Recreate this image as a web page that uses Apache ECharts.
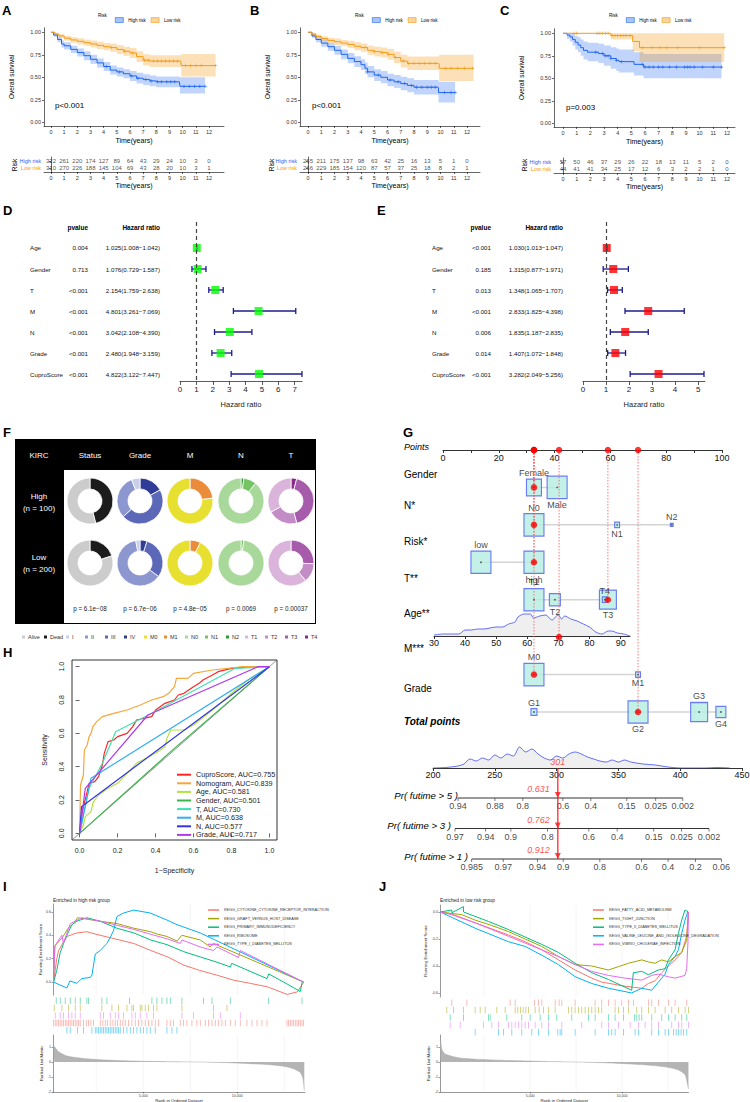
<!DOCTYPE html>
<html><head><meta charset="utf-8">
<script src="https://cdn.jsdelivr.net/npm/echarts@6/dist/echarts.min.js"></script>
<style>html,body{margin:0;padding:0;background:#fff}#c{width:750px;height:1102px}</style>
</head><body><div id="c"></div>
<script>
// ======================= DATA =======================
const years=[0,1,2,3,4,5,6,7,8,9,10,11,12];
const survTicks=[0,0.25,0.5,0.75,1];
// --- KM panel A
const kmA_high=[[0,1],[0.2,0.97],[0.5,0.92],[0.8,0.87],[1,0.85],[1.5,0.81],[2,0.775],[2.5,0.74],[3,0.70],[3.5,0.66],[4,0.62],[4.5,0.58],[5,0.56],[5.5,0.54],[6,0.515],[6.5,0.49],[7,0.475],[7.5,0.46],[8,0.45],[9.75,0.45],[9.8,0.40],[11.7,0.40]];
const kmA_highLo=[[0,1],[0.2,0.95],[0.5,0.89],[0.8,0.83],[1,0.81],[1.5,0.77],[2,0.73],[2.5,0.69],[3,0.65],[3.5,0.61],[4,0.57],[4.5,0.53],[5,0.51],[5.5,0.49],[6,0.46],[6.5,0.43],[7,0.415],[7.5,0.40],[8,0.39],[9.75,0.39],[9.8,0.32],[11.7,0.32]];
const kmA_highHi=[[0,1],[0.2,0.99],[0.5,0.95],[0.8,0.91],[1,0.89],[1.5,0.85],[2,0.82],[2.5,0.79],[3,0.75],[3.5,0.71],[4,0.67],[4.5,0.63],[5,0.61],[5.5,0.59],[6,0.57],[6.5,0.55],[7,0.535],[7.5,0.52],[8,0.51],[9.75,0.51],[9.8,0.50],[11.7,0.50]];
const kmA_low=[[0,1],[0.3,0.98],[0.6,0.96],[1,0.935],[1.5,0.915],[2,0.90],[2.5,0.885],[3,0.87],[3.5,0.855],[4,0.84],[4.5,0.83],[5,0.81],[5.5,0.79],[6,0.77],[6.5,0.73],[7,0.69],[7.5,0.68],[9.85,0.68],[9.9,0.63],[12.5,0.63]];
const kmA_lowLo=[[0,1],[0.3,0.965],[0.6,0.94],[1,0.91],[1.5,0.885],[2,0.865],[2.5,0.85],[3,0.83],[3.5,0.815],[4,0.80],[4.5,0.785],[5,0.76],[5.5,0.74],[6,0.715],[6.5,0.67],[7,0.63],[7.5,0.615],[9.85,0.61],[9.9,0.51],[12.5,0.51]];
const kmA_lowHi=[[0,1],[0.3,0.995],[0.6,0.98],[1,0.96],[1.5,0.945],[2,0.935],[2.5,0.92],[3,0.91],[3.5,0.895],[4,0.88],[4.5,0.875],[5,0.86],[5.5,0.84],[6,0.825],[6.5,0.79],[7,0.755],[7.5,0.745],[9.85,0.745],[9.9,0.76],[12.5,0.76]];
const censA_high=[4.2,5.2,6.1,6.6,7.2,7.6,8.1,8.4,8.8,9.1,9.4,10.1,10.5,10.9,11.3,11.7];
const censA_low=[4.6,5.6,6.2,7.1,7.4,7.8,8.1,8.4,8.7,9.0,9.3,9.6,10.2,10.6,11.0,11.4,12.5];
const riskA_high=[322,261,220,174,127,89,64,43,29,24,10,3,0];
const riskA_low=[310,270,226,188,145,104,69,43,28,20,10,3,1];
// --- KM panel B
const kmB_high=[[0,1],[0.3,0.96],[0.6,0.92],[1,0.88],[1.5,0.84],[2,0.80],[2.5,0.755],[3,0.71],[3.5,0.675],[4,0.64],[4.3,0.60],[4.5,0.56],[5,0.525],[5.5,0.50],[6,0.47],[6.5,0.45],[7,0.43],[7.5,0.41],[8,0.39],[9.8,0.385],[9.85,0.33],[11.1,0.33]];
const kmB_highLo=[[0,1],[0.3,0.94],[0.6,0.89],[1,0.84],[1.5,0.795],[2,0.75],[2.5,0.70],[3,0.655],[3.5,0.615],[4,0.58],[4.3,0.54],[4.5,0.50],[5,0.46],[5.5,0.435],[6,0.40],[6.5,0.38],[7,0.355],[7.5,0.335],[8,0.31],[9.8,0.30],[9.85,0.22],[11.1,0.22]];
const kmB_highHi=[[0,1],[0.3,0.985],[0.6,0.955],[1,0.92],[1.5,0.885],[2,0.85],[2.5,0.81],[3,0.77],[3.5,0.735],[4,0.70],[4.3,0.665],[4.5,0.625],[5,0.59],[5.5,0.57],[6,0.54],[6.5,0.525],[7,0.505],[7.5,0.49],[8,0.47],[9.8,0.47],[9.85,0.45],[11.1,0.45]];
const kmB_low=[[0,1],[0.3,0.98],[0.6,0.955],[1,0.93],[1.5,0.91],[2,0.895],[2.5,0.88],[3,0.865],[3.5,0.845],[4,0.83],[4.5,0.80],[5,0.785],[5.5,0.775],[6,0.755],[6.5,0.72],[7,0.68],[7.5,0.655],[9.85,0.65],[9.9,0.60],[12.5,0.60]];
const kmB_lowLo=[[0,1],[0.3,0.965],[0.6,0.935],[1,0.905],[1.5,0.88],[2,0.86],[2.5,0.845],[3,0.825],[3.5,0.80],[4,0.785],[4.5,0.75],[5,0.73],[5.5,0.72],[6,0.695],[6.5,0.655],[7,0.61],[7.5,0.58],[9.85,0.575],[9.9,0.46],[12.5,0.46]];
const kmB_lowHi=[[0,1],[0.3,0.995],[0.6,0.975],[1,0.955],[1.5,0.94],[2,0.93],[2.5,0.915],[3,0.905],[3.5,0.89],[4,0.875],[4.5,0.85],[5,0.84],[5.5,0.83],[6,0.815],[6.5,0.785],[7,0.75],[7.5,0.73],[9.85,0.73],[9.9,0.75],[12.5,0.75]];
const censB_high=[4.5,5.3,6.2,6.8,7.3,7.8,8.2,8.6,9.0,9.3,9.6,10.3,10.8,11.1];
const censB_low=[4.3,5.0,5.6,6.1,6.6,7.2,7.6,8.0,8.4,8.8,9.2,9.6,10.4,10.8,11.3,11.8,12.4];
const riskB_high=[265,211,175,137,98,63,42,25,16,13,5,1,0];
const riskB_low=[266,229,185,154,120,87,57,37,25,18,8,2,1];
// --- KM panel C
const kmC_high=[[0,1],[0.3,0.98],[0.5,0.96],[0.7,0.93],[0.9,0.90],[1.1,0.87],[1.3,0.84],[1.5,0.81],[1.8,0.79],[2.6,0.775],[3,0.75],[3.5,0.72],[3.9,0.70],[4.1,0.685],[5.2,0.655],[5.9,0.625],[11.6,0.625]];
const kmC_highLo=[[0,1],[0.3,0.94],[0.5,0.91],[0.7,0.865],[0.9,0.82],[1.1,0.79],[1.3,0.75],[1.5,0.71],[1.8,0.69],[2.6,0.67],[3,0.64],[3.5,0.605],[3.9,0.58],[4.1,0.565],[5.2,0.53],[5.9,0.50],[11.6,0.50]];
const kmC_highHi=[[0,1],[0.3,1],[0.5,1],[0.7,0.99],[0.9,0.97],[1.1,0.955],[1.3,0.93],[1.5,0.91],[1.8,0.895],[2.6,0.885],[3,0.865],[3.5,0.845],[3.9,0.83],[4.1,0.82],[5.2,0.79],[5.9,0.77],[11.6,0.77]];
const kmC_low=[[0,1],[3.5,0.975],[5.1,0.91],[5.6,0.84],[11.8,0.84]];
const kmC_lowLo=[[0,1],[3.5,0.93],[5.1,0.80],[5.6,0.68],[11.8,0.68]];
const kmC_lowHi=[[0,1],[3.5,1],[5.1,1],[5.6,1],[11.8,1]];
const censC_high=[2.4,2.9,3.1,3.3,3.5,3.9,4.3,5.8,6.0,6.3,6.6,7.0,7.3,7.8,8.3,8.9,9.1,9.3,9.6,10.2,11.0,11.6];
const censC_low=[0.8,1.0,2.5,2.7,2.9,3.1,3.3,3.6,3.8,4.0,4.2,4.4,4.6,4.9,5.8,6.5,7.1,7.6,8.4,10.0,11.8];
const riskC_high=[57,50,46,37,29,26,22,18,13,11,5,2,0];
const riskC_low=[44,41,41,34,25,17,12,6,3,2,2,1,0];
// --- Forest D (univariate) / E (multivariate)
const forestNames=['Age','Gender','T','M','N','Grade','CuproScore'];
const pvalD=['0.004','0.713','<0.001','<0.001','<0.001','<0.001','<0.001'];
const hrD=[1.025,1.076,2.154,4.801,3.042,2.480,4.822];
const hrLoD=[1.008,0.729,1.759,3.261,2.108,1.948,3.122];
const hrHiD=[1.042,1.587,2.638,7.069,4.390,3.159,7.447];
const pvalE=['<0.001','0.185','0.013','<0.001','0.006','0.014','<0.001'];
const hrE=[1.030,1.315,1.348,2.833,1.835,1.407,3.282];
const hrLoE=[1.013,0.877,1.065,1.825,1.187,1.072,2.049];
const hrHiE=[1.047,1.971,1.707,4.398,2.835,1.848,5.256];
const forestTicksD=[0,1,2,3,4,5,6,7];
const forestTicksE=[0,1,2,3,4,5];
// --- Donuts F (clockwise from 12 o'clock)
const donutCols=['Status','Grade','M','N','T'];
const statusNames=['Dead','Alive'];     const statusHigh=[46,54];        const statusLow=[20,80];
const gradeNames=['IV','III','II','I']; const gradeHigh=[17,46,31,6];    const gradeLow=[5,30,62,3];
const mNames=['M1','M0'];               const mHigh=[23,77];             const mLow=[7.5,92.5];
const nNames=['N2','N1','N0'];          const nHigh=[2,9,89];            const nLow=[0,2,98];
const tNames=['T4','T3','T2','T1'];     const tHigh=[4,42,21,33];        const tLow=[0,25.5,13.5,61];
const donutP=['p = 6.1e\u221208','p = 6.7e\u221206','p = 4.8e\u221205','p = 0.0069','p = 0.00037'];
const donutLegend=['Alive','Dead','I','II','III','IV','M0','M1','N0','N1','N2','T1','T2','T3','T4'];
// --- Nomogram G
const genderLv=['Female','Male']; const genderPts=[32.6,40.9]; const genderFreq=[0.56,1];
const nLv=['N0','N1','N2']; const nPts=[32.6,62.4,82.0]; const nFreq=[1,0.06,0.02];
const riskLv=['low','high']; const riskPts=[13.6,32.6]; const riskFreq=[1,1];
const tLv=['T1','T2','T3','T4']; const tPts=[32.6,40.1,59.1,58.0]; const tFreq=[1,0.3,0.72,0.06];
const mLv=['M0','M1']; const mPts=[32.6,69.9]; const mFreq=[1,0.06];
const gLv=['G1','G2','G3','G4']; const gPts=[32.6,69.9,91.8,99.6]; const gFreq=[0.09,1,0.72,0.25];
const selIdx=[0,0,1,2,0,1]; // Female, N0, high, T3, M0, G2
const ageSel=70; const ageSelPts=41.6;
const ageDensX=[30,33,36,38,40,42,44,46,48,50,52,54,56,57,59,61,62,64,66,67,68,69,70,71,72,74,76,78,80,82,84,86,87,89,91,93];
const ageDensY=[1,2,2,2,6,6,7,7,8,9,9,12,14,19,22,22,18,20,21,18,16,19,21,17,20,17,15,12,9,4,2,5,5,3,2,0];
const totDensX=[200,210,220,225,230,235,240,245,250,255,260,265,270,275,280,285,290,295,300,305,310,315,320,325,330,335,340,345,350,355,360,370,380,390,400,420,430,440];
const totDensY=[0,0.5,2,4,9,7,10,8,13,10,14,12,21,16,19,14,10,8,12,10,14,16,14,11,9,7,6,8,6,8,6,4,3,1,0,0,0.5,0];
const totalSel=301;
const pr5Pts=[220.2,250.1,272.7,305.1,327.7,356.8,380.2,402.1]; const pr5Lab=['0.94','0.88','0.8','0.6','0.4','0.15','0.025','0.002'];
const pr3Pts=[217.8,242.6,263.0,292.7,326.1,349.0,378.6,401.0,423.3]; const pr3Lab=['0.97','0.94','0.9','0.8','0.6','0.4','0.15','0.025','0.002'];
const pr1Pts=[231.3,256.8,284.6,305.3,335.0,368.7,390.2,412.3,433.3]; const pr1Lab=['0.985','0.97','0.94','0.9','0.8','0.6','0.4','0.2','0.06'];
const prSel=['0.631','0.762','0.912'];
const prNames=['Pr( futime > 5 )','Pr( futime > 3 )','Pr( futime > 1 )'];
// --- ROC H
const rocNames=['CuproScore, AUC=0.755','Nomogram, AUC=0.839','Age, AUC=0.581','Gender, AUC=0.501','T, AUC=0.730','M, AUC=0.638','N, AUC=0.577','Grade, AUC=0.717'];
const rocCupro=[[0,0],[0.01,0.1],[0.02,0.16],[0.04,0.25],[0.05,0.3],[0.08,0.31],[0.1,0.34],[0.12,0.41],[0.13,0.48],[0.15,0.55],[0.18,0.56],[0.2,0.58],[0.25,0.6],[0.28,0.64],[0.3,0.68],[0.38,0.7],[0.4,0.74],[0.45,0.78],[0.5,0.8],[0.52,0.83],[0.55,0.84],[0.6,0.88],[0.63,0.9],[0.65,0.92],[0.7,0.95],[0.73,0.97],[0.8,0.99],[0.9,1],[1,1]];
const rocNomo=[[0,0],[0.005,0.29],[0.02,0.35],[0.025,0.5],[0.04,0.53],[0.05,0.58],[0.06,0.6],[0.07,0.64],[0.09,0.67],[0.12,0.7],[0.18,0.72],[0.25,0.74],[0.32,0.77],[0.38,0.8],[0.44,0.82],[0.47,0.84],[0.5,0.88],[0.51,0.93],[0.57,0.93],[0.6,0.96],[0.7,0.98],[0.86,1],[1,1]];
const rocAge=[[0,0],[0.02,0.05],[0.03,0.1],[0.06,0.13],[0.07,0.18],[0.08,0.2],[0.1,0.23],[0.15,0.27],[0.2,0.3],[0.3,0.42],[0.35,0.45],[0.4,0.48],[0.45,0.52],[0.46,0.57],[0.48,0.62],[0.55,0.62],[0.6,0.65],[0.7,0.74],[0.75,0.79],[0.8,0.84],[0.9,0.93],[1,1]];
const rocGender=[[0,0],[0.48,0.49],[1,1]];
const rocT=[[0,0],[0.05,0.27],[0.12,0.42],[0.19,0.61],[0.38,0.72],[0.82,0.99],[1,1]];
const rocM=[[0,0],[0.06,0.33],[1,1]];
const rocN=[[0,0],[0.01,0.16],[1,1]];
const rocGrade=[[0,0],[0.03,0.27],[0.36,0.71],[0.94,1],[1,1]];
const rocTicks=[0,0.2,0.4,0.6,0.8,1.0];
// --- GSEA I
const gseaNamesI=['KEGG_CYTOKINE_CYTOKINE_RECEPTOR_INTERACTION','KEGG_GRAFT_VERSUS_HOST_DISEASE','KEGG_PRIMARY_IMMUNODEFICIENCY','KEGG_RIBOSOME','KEGG_TYPE_I_DIABETES_MELLITUS'];
const esI_cyto=[[229,0],[400,0.2],[500,0.27],[940,0.39],[1470,0.42],[2000,0.43],[2700,0.40],[3600,0.365],[4500,0.33],[5400,0.27],[6300,0.215],[7150,0.145],[8000,0.10],[8900,0.06],[9800,0.017],[10700,-0.011],[11600,-0.04],[12650,-0.105],[13200,-0.083],[13530,0]];
const esI_graft=[[229,0],[300,0.31],[700,0.38],[1000,0.46],[1300,0.5],[1500,0.55],[2700,0.52],[3600,0.5],[4500,0.46],[5400,0.43],[5750,0.41],[6260,0.39],[6800,0.35],[7050,0.40],[8030,0.36],[8560,0.30],[8740,0.33],[9450,0.28],[13530,0]];
const esI_primary=[[229,0],[400,0.1],[580,0.25],[760,0.33],[940,0.40],[1200,0.49],[1470,0.52],[2000,0.55],[2700,0.52],[3600,0.46],[4500,0.42],[5400,0.36],[6260,0.32],[7150,0.26],[8030,0.215],[8920,0.17],[9630,0.13],[9700,0.16],[11580,0.03],[11670,0.07],[12470,0.0],[13350,-0.08],[13450,0]];
const esI_ribo=[[229,0],[940,-0.05],[1100,0.01],[1470,-0.01],[1730,0.03],[2180,0.04],[2270,0.06],[2450,0.24],[2710,0.27],[3060,0.33],[3240,0.38],[3420,0.44],[3600,0.56],[3950,0.59],[4490,0.615],[5370,0.59],[6260,0.53],[6800,0.49],[8030,0.42],[13530,0]];
const esI_t1d=[[229,0],[300,0.31],[670,0.40],[750,0.33],[1120,0.50],[1380,0.52],[1740,0.55],[2000,0.54],[2710,0.52],[4490,0.45],[5370,0.41],[6260,0.37],[6970,0.33],[7060,0.36],[8030,0.30],[8740,0.27],[8920,0.30],[10070,0.21],[10160,0.27],[13530,0]];
const hitsI_primary=[372,584,850,1116,1382,1648,2003,2091,2800,3067,4273,5460,5726,5992,6258,6435,7056,8208,8652,9626,11666,13439];
const hitsI_graft=[265,673,1028,1382,1648,2800,3333,3687,4130,4396,4485,4840,4928,5105,5283,5549,5726,7056,8740,9449];
const hitsI_t1d=[318,584,762,1028,1205,1382,1648,2712,2889,3244,3510,3687,3953,4396,4574,4840,5194,5549,7056,7676,8740,9094,10158];
const hitsI_cyto=[230,318,407,496,584,673,762,850,939,1028,1116,1205,1294,1382,1471,1560,1648,1826,1967,2091,2216,2357,2712,2854,2978,3102,3244,3386,3510,3634,3776,3918,4042,4219,4396,4574,4751,4928,5105,5283,5460,5637,5815,6258,6435,6613,6967,7145,7322,7588,7854,8031,8297,8474,8652,8829,9006,9183,9361,9626,9892,10158,10513,10779,11045,11311,11577,12641,12729,12818,12907,12995,13084,13173,13261,13350,13439,13527];
const hitsI_ribo=[939,1116,1506,1826,2269,2446,2535,2623,2712,2800,2889,2978,3067,3155,3244,3333,3421,3510,3599,3687,3776,3953,4130,4308,4485,4662,4840,5017,5194,5372,5638,6258,6524,6790];
const metricI=[[229,1.1],[265,1.05],[496,0.68],[939,0.4],[1826,0.23],[2712,0.15],[4485,0.06],[6258,0.02],[8031,0],[9803,-0.06],[11577,-0.17],[12463,-0.28],[12995,-0.45],[13350,-0.7],[13492,-1.1],[13563,-1.9]];
// --- GSEA J
const gseaNamesJ=['KEGG_FATTY_ACID_METABOLISM','KEGG_TIGHT_JUNCTION','KEGG_TYPE_II_DIABETES_MELLITUS','KEGG_VALINE_LEUCINE_AND_ISOLEUCINE_DEGRADATION','KEGG_VIBRIO_CHOLERAE_INFECTION'];
const esJ_fatty=[[109,0],[742,-0.015],[2010,-0.08],[3820,-0.17],[4730,-0.22],[5630,-0.28],[6540,-0.355],[7450,-0.43],[8350,-0.49],[8900,-0.52],[10160,-0.55],[11070,-0.565],[11430,-0.53],[11790,-0.51],[12150,-0.45],[12520,-0.40],[12880,-0.355],[13240,-0.30],[13510,-0.18],[13605,0]];
const esJ_tight=[[109,0],[1285,-0.02],[2010,-0.06],[2920,-0.1],[3820,-0.145],[5630,-0.255],[6540,-0.33],[7450,-0.39],[8350,-0.40],[9255,-0.43],[9800,-0.405],[10340,-0.38],[11070,-0.355],[11430,-0.37],[11790,-0.38],[12150,-0.355],[12520,-0.37],[12880,-0.33],[13240,-0.30],[13510,-0.21],[13605,0]];
const esJ_t2d=[[109,0],[742,0.015],[750,-0.005],[1375,0.04],[1380,0.0],[2740,-0.07],[3820,-0.13],[5630,-0.24],[6540,-0.30],[7450,-0.38],[8350,-0.45],[9255,-0.50],[10520,-0.58],[10610,-0.45],[11070,-0.44],[11430,-0.465],[11970,-0.43],[12340,-0.42],[12520,-0.355],[12880,-0.28],[13060,-0.16],[13240,-0.06],[13420,0.015],[13605,0]];
const esJ_valine=[[109,0],[2010,-0.12],[3820,-0.22],[4730,-0.255],[5630,-0.32],[6540,-0.39],[7450,-0.48],[8350,-0.53],[9255,-0.565],[10520,-0.60],[11070,-0.565],[11610,-0.58],[11970,-0.52],[12340,-0.46],[12520,-0.39],[12880,-0.33],[13060,-0.28],[13240,-0.16],[13420,-0.06],[13570,0]];
const esJ_vibrio=[[109,0],[742,-0.02],[2010,-0.08],[3820,-0.18],[5630,-0.28],[6540,-0.33],[7450,-0.39],[8350,-0.44],[9255,-0.47],[10160,-0.49],[11070,-0.505],[11610,-0.47],[11970,-0.46],[12520,-0.48],[12880,-0.49],[13420,-0.47],[13510,-0.42],[13580,-0.23],[13605,0]];
const hitsJ_fatty=[743,1560,3914,4186,5236,5454,5635,6360,6577,6722,7446,8533,8895,9258,9620,9982,10345,10617,11432,11613,11975,12519,12881,13515];
const hitsJ_tight=[471,834,1377,2011,2283,2555,3189,3642,4185,4330,4475,4620,4765,4910,5272,5490,5725,5997,6359,7084,7265,7446,7627,7809,7990,8171,8352,8533,8714,8896,9620,9801,10073,10345,10798,11070,11432,11794,12338,12700,13063,13425,13606];
const hitsJ_t2d=[652,1377,2736,2827,3732,4547,5000,5544,5997,6450,7265,8171,8533,9258,9620,10073,10671,10798,10925,11070,11613,12157,12519,12881,13244,13515];
const hitsJ_vibrio=[652,1196,2464,2917,3279,3823,4004,4185,4366,4547,4729,4910,5272,5635,5997,6722,7809,8896,9258,9801,10435,10888,11251,11613,11975,12700,13063,13244,13606];
const hitsJ_valine=[2011,3279,3551,4004,4547,5091,5453,5997,6504,6631,6722,7446,8533,9258,9439,9620,10073,10707,10888,11613,11975,12338,12519,12791,12936,13063,13207,13334,13515];
const metricJ=[[109,1.4],[145,1.38],[199,0.85],[380,0.53],[1105,0.28],[2011,0.19],[3823,0.1],[5635,0.04],[7446,0],[9258,-0.06],[11070,-0.17],[12338,-0.32],[13063,-0.53],[13425,-0.85],[13606,-1.8]];

// ======================= BUILD =======================
const FONT='"Liberation Sans", Arial, Helvetica, sans-serif';
const COL_H='#1F66F2', COL_L='#F59B15';
const BAND_H='rgba(31,102,242,0.28)', BAND_L='rgba(245,155,21,0.30)';
const GSEA_COL=['#F8766D','#A3A500','#00BF7D','#00B0F6','#E76BF3'];
const grids=[], xAxis=[], yAxis=[], series=[], legend=[], graphic=[];
function grid(g){grids.push(Object.assign({outerBoundsMode:'none',containLabel:false},g));return grids.length-1;}
function xa(o){xAxis.push(Object.assign({position:'bottom'},o));return xAxis.length-1;}
function ya(o){yAxis.push(Object.assign({position:'left'},o));return yAxis.length-1;}
function T(x,y,t,st,rot){const e={type:'text',x:x,y:y,z:50,style:Object.assign({text:t,fontFamily:FONT,fontSize:8,fill:'#000',align:'left',verticalAlign:'middle'},st||{})};if(rot)e.rotation=rot;graphic.push(e);}
function stepAt(c,t){let v=c[0][1];for(const p of c){if(p[0]<=t)v=p[1];else break;}return v;}
const hidden={show:false};
const line05={color:'#000',width:0.6};

function band(xi,yi,lo,hi,color){
  series.push({type:'custom',xAxisIndex:xi,yAxisIndex:yi,data:[[0,0]],silent:true,z:1,
    renderItem:(params,api)=>{
      const pts=[];
      for(let i=0;i<hi.length;i++){pts.push(api.coord(hi[i]));if(i+1<hi.length)pts.push(api.coord([hi[i+1][0],hi[i][1]]));}
      const L=lo.length-1; pts.push(api.coord(lo[L]));
      for(let i=L-1;i>=0;i--){pts.push(api.coord([lo[i+1][0],lo[i][1]]));pts.push(api.coord(lo[i]));}
      return {type:'polygon',shape:{points:pts},style:{fill:color}};
    }});
}
const CROSS='path://M4,0H6V4H10V6H6V10H4V6H0V4H4Z';
function km(c){
  const gi=grid({left:c.left,top:c.top,width:c.width,height:c.height});
  const xAx={type:'value',min:c.xmin,max:c.xmax,
    axisLine:{show:true,onZero:false,lineStyle:line05},
    axisTick:{show:true,customValues:years,length:2,lineStyle:line05},
    axisLabel:{customValues:years,fontSize:5.5,color:'#333',margin:3},
    splitLine:hidden,name:'Time(years)',nameLocation:'middle',nameGap:11,nameTextStyle:{fontSize:7,color:'#000'}};
  const xi=xa(Object.assign({gridIndex:gi},xAx));
  const yi=ya({gridIndex:gi,type:'value',min:c.ymin,max:c.ymax,
    axisLine:{show:true,onZero:false,lineStyle:line05},
    axisTick:{show:true,customValues:survTicks,length:2,lineStyle:line05},
    axisLabel:{customValues:survTicks,formatter:v=>v.toFixed(2),fontSize:5.5,color:'#333',margin:3},
    splitLine:hidden,name:'Overall survival',nameLocation:'middle',nameGap:29,nameRotate:90,nameTextStyle:{fontSize:6.5,color:'#000'}});
  band(xi,yi,c.hLo,c.hHi,BAND_H); band(xi,yi,c.lLo,c.lHi,BAND_L);
  series.push({name:'High risk',type:'line',step:'end',xAxisIndex:xi,yAxisIndex:yi,data:c.h,showSymbol:false,symbol:'rect',lineStyle:{color:COL_H,width:1},itemStyle:{color:COL_H},z:3});
  series.push({name:'Low risk',type:'line',step:'end',xAxisIndex:xi,yAxisIndex:yi,data:c.l,showSymbol:false,symbol:'rect',lineStyle:{color:COL_L,width:1},itemStyle:{color:COL_L},z:3});
  series.push({type:'scatter',xAxisIndex:xi,yAxisIndex:yi,symbol:CROSS,symbolSize:3.5,itemStyle:{color:COL_H},data:c.ch.map(t=>[t,stepAt(c.h,t)]),z:4,silent:true});
  series.push({type:'scatter',xAxisIndex:xi,yAxisIndex:yi,symbol:CROSS,symbolSize:3.5,itemStyle:{color:COL_L},data:c.cl.map(t=>[t,stepAt(c.l,t)]),z:4,silent:true});
  T(c.pX,c.pY,c.p,{fontSize:8});
  T(c.legX-12,15,'Risk',{fontSize:4.5});
  legend.push({left:c.legX,top:12.3,itemWidth:8,itemHeight:5,itemGap:5,icon:'rect',textStyle:{fontSize:4.5,color:'#000'},
    data:[{name:'High risk',itemStyle:{color:'#A9C4F8',borderColor:COL_H,borderWidth:0.6}},{name:'Low risk',itemStyle:{color:'#F9D49B',borderColor:COL_L,borderWidth:0.6}}]});
  const gr=grid({left:c.left,top:c.rtTop,width:c.width,height:15});
  const xr=xa(Object.assign({gridIndex:gr},xAx,{nameGap:8}));
  const yr=ya({gridIndex:gr,type:'category',data:['Low risk','High risk'],axisLine:{show:true,lineStyle:line05},
    axisTick:{show:true,length:2,alignWithLabel:true,interval:0,lineStyle:line05},
    axisLabel:{interval:0,fontSize:5.5,margin:3,color:(v)=>v==='High risk'?COL_H:COL_L}});
  const lab=(arr)=>({show:true,position:'inside',fontSize:6,color:'#222',formatter:p=>String(arr[p.dataIndex])});
  series.push({type:'scatter',xAxisIndex:xr,yAxisIndex:yr,symbolSize:1,itemStyle:{color:'transparent'},data:years.map(t=>[t,1]),label:lab(c.rh),silent:true});
  series.push({type:'scatter',xAxisIndex:xr,yAxisIndex:yr,symbolSize:1,itemStyle:{color:'transparent'},data:years.map(t=>[t,0]),label:lab(c.rl),silent:true});
  T(c.riskX,165,'Risk',{fontSize:6.5,align:'center'},Math.PI/2);
}
km({left:44,width:180,top:27.8,height:98.2,xmin:-0.53,xmax:13.14,ymin:-0.041,ymax:1.05,h:kmA_high,hLo:kmA_highLo,hHi:kmA_highHi,l:kmA_low,lLo:kmA_lowLo,lHi:kmA_lowHi,ch:censA_high,cl:censA_low,rh:riskA_high,rl:riskA_low,rtTop:157,p:'p<0.001',pX:55,pY:105,legX:110,riskX:14});
km({left:300,width:180,top:27.8,height:98.2,xmin:-0.6,xmax:12.98,ymin:-0.041,ymax:1.05,h:kmB_high,hLo:kmB_highLo,hHi:kmB_highHi,l:kmB_low,lLo:kmB_lowLo,lHi:kmB_lowHi,ch:censB_high,cl:censB_low,rh:riskB_high,rl:riskB_low,rtTop:157,p:'p<0.001',pX:312,pY:105,legX:367,riskX:271});
km({left:554,width:181,top:28.8,height:98.2,xmin:-0.66,xmax:12.59,ymin:-0.041,ymax:1.05,h:kmC_high,hLo:kmC_highLo,hHi:kmC_highHi,l:kmC_low,lLo:kmC_lowLo,lHi:kmC_lowHi,ch:censC_high,cl:censC_low,rh:riskC_high,rl:riskC_low,rtTop:158,p:'p=0.003',pX:566,pY:107,legX:621,riskX:524});

// ---------- Forest ----------
function forest(c){
  const gi=grid({left:c.left,top:222,width:c.width,height:159});
  const xi=xa({gridIndex:gi,type:'value',min:0,max:c.xmax,
    axisLine:{show:true,onZero:false,lineStyle:{color:'#333',width:0.8}},
    axisTick:{customValues:c.ticks,length:4,lineStyle:{color:'#333',width:0.8}},
    axisLabel:{customValues:c.ticks,fontSize:8,color:'#222',margin:4},splitLine:hidden,
    name:'Hazard ratio',nameLocation:'middle',nameGap:19,nameTextStyle:{fontSize:7.5,color:'#222'}});
  const hrTxt=c.hr.map((h,i)=>h.toFixed(3)+'('+c.lo[i].toFixed(3)+'\u2212'+c.hi[i].toFixed(3)+')');
  const yOpt=(labels,align,margin)=>({gridIndex:gi,type:'value',position:'left',offset:0,inverse:true,min:-1.238,max:6.333,axisLine:hidden,axisTick:hidden,splitLine:hidden,
    axisLabel:{customValues:[0,1,2,3,4,5,6],formatter:v=>labels[Math.round(v)],align:align,margin:margin,fontSize:6.2,color:'#111'}});
  const yi=ya(yOpt(forestNames,'left',c.left-c.nameX));
  ya(yOpt(c.pv,'right',c.left-c.pvX));
  ya(yOpt(hrTxt,'right',c.left-c.hrX));
  series.push({type:'custom',xAxisIndex:xi,yAxisIndex:yi,encode:{x:[0,1],y:2},data:c.hr.map((h,i)=>[c.lo[i],c.hi[i],i]),z:2,
    renderItem:(p,api)=>{const a=api.coord([api.value(0),api.value(2)]),b=api.coord([api.value(1),api.value(2)]);const s={stroke:'#1C1C8E',lineWidth:1.3};
      return {type:'group',children:[{type:'line',shape:{x1:a[0],y1:a[1],x2:b[0],y2:b[1]},style:s},{type:'line',shape:{x1:a[0],y1:a[1]-3,x2:a[0],y2:a[1]+3},style:s},{type:'line',shape:{x1:b[0],y1:b[1]-3,x2:b[0],y2:b[1]+3},style:s}]};}});
  series.push({type:'scatter',xAxisIndex:xi,yAxisIndex:yi,symbol:'rect',symbolSize:8,itemStyle:{color:c.color},data:c.hr.map((h,i)=>[h,i]),z:3,
    markLine:{silent:true,symbol:['none','none'],label:{show:false},lineStyle:{type:[4,3],color:'#444',width:1.2},data:[{xAxis:1}]}});
  T(c.pvX,227,'pvalue',{fontSize:6.5,fontWeight:'bold',align:'right'});
  T(c.hrX,227,'Hazard ratio',{fontSize:6.5,fontWeight:'bold',align:'right'});
}
forest({left:180,width:122,xmax:7.45,ticks:forestTicksD,nameX:30,pvX:88,hrX:160,color:'#00FF00',hr:hrD,lo:hrLoD,hi:hrHiD,pv:pvalD});
forest({left:583,width:122,xmax:5.3,ticks:forestTicksE,nameX:432,pvX:491,hrX:563,color:'#FF0000',hr:hrE,lo:hrLoE,hi:hrHiE,pv:pvalE});

// ---------- Donuts F ----------
const DCOL={Alive:'#CCCCCC',Dead:'#1C1C1C',I:'#C9CEEB',II:'#8C96CF',III:'#5B68B8',IV:'#2F3D98',M0:'#E8E030',M1:'#EB8C3A',N0:'#A9D89B',N1:'#74C464',N2:'#2F9A2F',T1:'#DAB4DA',T2:'#C48CC6',T3:'#A75BAB',T4:'#8C2A8C'};
graphic.push({type:'rect',shape:{x:15,y:439,width:301,height:185},style:{fill:'#000'},z:0});
graphic.push({type:'rect',shape:{x:64,y:470,width:251,height:153},style:{fill:'#fff'},z:0});
const colX=[90,140,190,241,291];
T(39,455,'KIRC',{fill:'#fff',align:'center',fontSize:8});
donutCols.forEach((n,i)=>T(colX[i],455,n,{fill:'#fff',align:'center',fontSize:8}));
T(39,496,'High',{fill:'#fff',align:'center',fontSize:8}); T(39,508,'(n = 100)',{fill:'#fff',align:'center',fontSize:8});
T(39,557,'Low',{fill:'#fff',align:'center',fontSize:8}); T(39,569,'(n = 200)',{fill:'#fff',align:'center',fontSize:8});
donutP.forEach((p,i)=>T(colX[i],608,p,{align:'center',fontSize:6.3,fill:'#222'}));
const donutSets=[[statusNames,statusHigh,statusLow],[gradeNames,gradeHigh,gradeLow],[mNames,mHigh,mLow],[nNames,nHigh,nLow],[tNames,tHigh,tLow]];
donutSets.forEach((s,i)=>{[[s[1],501],[s[2],563]].forEach(([vals,cy])=>{
  series.push({type:'pie',center:[colX[i],cy],radius:[12,23],startAngle:90,clockwise:true,label:hidden,labelLine:hidden,silent:true,
    itemStyle:{borderColor:'#fff',borderWidth:0.8},
    data:s[0].map((nm,k)=>({name:nm,value:vals[k],itemStyle:{color:DCOL[nm]}}))});
});});
const donutLegLeft=[15,37,59,78,98,117,137,157,178,198,219,238,258,278,298];
donutLegend.forEach((nm,i)=>legend.push({left:donutLegLeft[i],top:628.5,itemWidth:5,itemHeight:5,icon:'rect',data:[nm],textStyle:{fontSize:5.5,color:'#333',padding:[0,0,0,-3]}}));

// ---------- Nomogram G ----------
const NR=37.43;
const gN=grid({left:443,top:450,width:279,height:7.3*NR});
const nxi=xa({gridIndex:gN,type:'value',min:0,max:100,position:'top',
  axisLine:{show:true,onZero:false,lineStyle:{color:'#333',width:1}},
  axisTick:{customValues:[0,10,20,30,40,50,60,70,80,90,100],inside:true,length:3,lineStyle:{color:'#333'}},
  axisLabel:{customValues:[0,20,40,60,80,100],inside:true,fontSize:9,color:'#111',margin:3},splitLine:hidden});
const nyi=ya({gridIndex:gN,type:'value',min:0,max:7.3,inverse:true,show:false});
const nomoRows=[[genderLv,genderPts,genderFreq,1],[nLv,nPts,nFreq,2],[riskLv,riskPts,riskFreq,3],[tLv,tPts,tFreq,4],[mLv,mPts,mFreq,6],[gLv,gPts,gFreq,7]];
const nomoLabPos=[['top','bottom'],['top','bottom','top'],['top','bottom'],['top','bottom','bottom','top'],['top','bottom'],['top','bottom','top','bottom']];
const selPts=[];
nomoRows.forEach((r,ri)=>{
  const [lv,pts,fq,row]=r;
  series.push({type:'line',xAxisIndex:nxi,yAxisIndex:nyi,data:[[Math.min(...pts),row],[Math.max(...pts),row]],showSymbol:false,lineStyle:{color:'#D4D4D4',width:1.5},z:1,silent:true});
  series.push({type:'scatter',xAxisIndex:nxi,yAxisIndex:nyi,symbol:'rect',clip:false,z:2,silent:true,
    itemStyle:{color:'#B4EDE2',borderColor:'#4E5EF2',borderWidth:1.2},
    data:lv.map((n,k)=>{const s=20*Math.sqrt(fq[k]);return {value:[pts[k],row],symbolSize:[s,s*1.12],label:{show:true,position:nomoLabPos[ri][k],distance:1,formatter:n,fontSize:9,color:'#111'}};})});
  series.push({type:'scatter',xAxisIndex:nxi,yAxisIndex:nyi,symbolSize:1.6,itemStyle:{color:'#222'},data:pts.map(p=>[p,row]),z:3,silent:true});
  selPts.push([pts[selIdx[ri]],row]);
});
selPts.push([ageSelPts,5]);
selPts.forEach(s=>{
  series.push({type:'line',xAxisIndex:nxi,yAxisIndex:nyi,data:[[s[0],0],s],showSymbol:false,clip:false,lineStyle:{color:'#FF5555',width:0.8,type:[1.5,1.5]},z:4,silent:true});
});
series.push({type:'scatter',xAxisIndex:nxi,yAxisIndex:nyi,clip:false,symbolSize:6.5,itemStyle:{color:'#FF0000'},z:6,silent:true,data:selPts.concat(selPts.map(s=>[s[0],0]))});
const gA=grid({left:434,top:611,width:196,height:25});
const axi=xa({gridIndex:gA,type:'value',min:30,max:93,axisLine:{show:true,onZero:false,lineStyle:{color:'#333',width:1}},
  axisTick:{customValues:[30,40,50,60,70,80,90],length:3,lineStyle:{color:'#333'}},axisLabel:{customValues:[30,40,50,60,70,80,90],fontSize:9,color:'#111',margin:2},splitLine:hidden});
const ayi=ya({gridIndex:gA,type:'value',min:0,max:25,show:false});
series.push({type:'line',xAxisIndex:axi,yAxisIndex:ayi,data:ageDensX.map((a,i)=>[a,ageDensY[i]]),showSymbol:false,smooth:0.3,lineStyle:{color:'#3D4DF0',width:0.8},areaStyle:{color:'#EFEFEF',opacity:1},z:1,silent:true});
const gTo=grid({left:433,top:738,width:309,height:30});
const txi=xa({gridIndex:gTo,type:'value',min:200,max:450,axisLine:{show:true,onZero:false,lineStyle:{color:'#333',width:1}},
  axisTick:{customValues:[200,250,300,350,400,450],length:3,lineStyle:{color:'#333'}},axisLabel:{customValues:[200,250,300,350,400,450],fontSize:9,color:'#111',margin:2},splitLine:hidden});
const tyi=ya({gridIndex:gTo,type:'value',min:0,max:30,show:false});
series.push({type:'line',xAxisIndex:txi,yAxisIndex:tyi,data:totDensX.map((a,i)=>[a,totDensY[i]]),showSymbol:false,smooth:0.3,lineStyle:{color:'#3D4DF0',width:0.8},areaStyle:{color:'#EFEFEF',opacity:1},z:1,silent:true});
series.push({type:'scatter',xAxisIndex:txi,yAxisIndex:tyi,symbolSize:1,itemStyle:{color:'transparent'},data:[[totalSel,0]],z:5,silent:true,
  label:{show:true,position:'top',distance:1,formatter:String(totalSel),fontSize:9,fontStyle:'italic',color:'#FF2222'}});
const gP=grid({left:433,top:798,width:309,height:61});
const pxi=xa({gridIndex:gP,type:'value',min:200,max:450,show:false});
const pyi=ya({gridIndex:gP,type:'value',min:0,max:2,inverse:true,show:false});
const prLabelRight=[458,451,468];
[[pr5Pts,pr5Lab],[pr3Pts,pr3Lab],[pr1Pts,pr1Lab]].forEach(([pp,ll],k)=>{
  series.push({type:'line',xAxisIndex:pxi,yAxisIndex:pyi,data:[[pp[0],k],[pp[pp.length-1],k]],showSymbol:false,clip:false,lineStyle:{color:'#333',width:1},silent:true});
  series.push({type:'scatter',xAxisIndex:pxi,yAxisIndex:pyi,symbol:'rect',symbolSize:[0.8,3],symbolOffset:[0,1.5],clip:false,itemStyle:{color:'#333'},silent:true,
    data:pp.map(p=>[p,k]),label:{show:true,position:'bottom',distance:0.5,fontSize:9,color:'#111',formatter:p=>ll[p.dataIndex]}});
  T(prLabelRight[k],795+k*30.5,prNames[k],{fontSize:9.6,fontStyle:'italic',align:'right'});
});
series.push({type:'line',xAxisIndex:pxi,yAxisIndex:pyi,data:[[totalSel,-0.98],[totalSel,2]],showSymbol:false,clip:false,lineStyle:{color:'#FF1A1A',width:1.2},z:5,silent:true});
series.push({type:'scatter',xAxisIndex:pxi,yAxisIndex:pyi,symbol:'triangle',symbolRotate:180,symbolSize:[6,6],symbolOffset:[0,-3],clip:false,itemStyle:{color:'#FF1A1A'},z:6,silent:true,
  data:[[totalSel,0],[totalSel,1],[totalSel,2]],label:{show:true,position:'left',distance:5,offset:[0,-6],fontSize:9,fontStyle:'italic',color:'#FF2222',formatter:p=>prSel[p.dataIndex]}});
T(404,447,'Points',{fontSize:9,fontStyle:'italic'});
[['Gender',474],['N*',505],['Risk*',541],['T**',578],['Age**',613],['M***',648],['Grade',688]].forEach(([t,y])=>T(404,y,t,{fontSize:10}));
T(404,721,'Total points',{fontSize:10,fontStyle:'italic',fontWeight:'bold'});

// ---------- ROC H ----------
const gR=grid({left:72,top:660,width:205,height:180,show:true,borderColor:'#000',borderWidth:0.8,backgroundColor:'transparent'});
const rxi=xa({gridIndex:gR,type:'value',min:-0.04,max:1.04,axisLine:{show:false},
  axisTick:{customValues:rocTicks,length:4,lineStyle:{color:'#000',width:0.6}},axisLabel:{customValues:rocTicks,formatter:v=>v.toFixed(1),fontSize:7,color:'#222',margin:7},
  splitLine:hidden,name:'1\u2212Specificity',nameLocation:'middle',nameGap:27,nameTextStyle:{fontSize:7,color:'#222'}});
const ryi=ya({gridIndex:gR,type:'value',min:-0.04,max:1.04,axisLine:{show:false},
  axisTick:{customValues:rocTicks,length:4,lineStyle:{color:'#000',width:0.6}},axisLabel:{customValues:rocTicks,formatter:v=>v.toFixed(1),fontSize:7,color:'#222',margin:7,rotate:90},
  splitLine:hidden,name:'Sensitivity',nameLocation:'middle',nameGap:24,nameTextStyle:{fontSize:7,color:'#222'}});
series.push({type:'line',xAxisIndex:rxi,yAxisIndex:ryi,data:[[-0.04,-0.04],[1.04,1.04]],showSymbol:false,lineStyle:{color:'#555',width:0.6},z:1,silent:true});
const rocData=[rocCupro,rocNomo,rocAge,rocGender,rocT,rocM,rocN,rocGrade];
const rocCol=['#FF2424','#F5A73C','#B4E23A','#3CB44A','#3DE3B0','#32AEF0','#3434E8','#B03AEA'];
[6,5,3,2,7,4,0,1].forEach(i=>{
  series.push({name:rocNames[i],type:'line',xAxisIndex:rxi,yAxisIndex:ryi,data:rocData[i],showSymbol:false,symbol:'none',lineStyle:{color:rocCol[i],width:1.2},itemStyle:{color:rocCol[i]},z:2+i,silent:true});
});
legend.push({orient:'vertical',left:172,top:766,itemWidth:14,itemHeight:2,itemGap:1.2,icon:'rect',data:rocNames,textStyle:{fontSize:7.2,color:'#222',lineHeight:7.4}});

// ---------- GSEA I / J ----------
function gsea(c){
  const vgrid=(xi,yi,y0,y1)=>series.push({type:'custom',xAxisIndex:xi,yAxisIndex:yi,data:[[0,0]],silent:true,z:0,renderItem:(p,api)=>({type:'group',children:[2500,5000,7500,10000,12500].map(v=>{const a=api.coord([v,y0]),b=api.coord([v,y1]);return {type:'line',shape:{x1:a[0],y1:a[1],x2:b[0],y2:b[1]},style:{stroke:'#EBEBEB',lineWidth:0.5}};})})});
  const g1=grid({left:c.left,top:c.esTop,width:c.width,height:c.esH});
  const x1=xa({gridIndex:g1,type:'value',min:c.xmin,max:c.xmax,show:false});
  const y1=ya({gridIndex:g1,type:'value',min:c.esMin,max:c.esMax,axisLine:{show:true,onZero:false,lineStyle:{color:'#333',width:0.5}},
    axisTick:{customValues:c.esTicks,length:1.5,lineStyle:{color:'#333',width:0.5}},axisLabel:{customValues:c.esTicks,formatter:v=>v.toFixed(1),fontSize:3.6,color:'#444',margin:2},
    splitLine:hidden,name:'Running Enrichment Score',nameLocation:'middle',nameGap:9,nameTextStyle:{fontSize:4.3,color:'#222'}});
  vgrid(x1,y1,c.esMin,c.esMax);
  c.es.forEach((d,i)=>series.push({name:c.names[i],type:'line',xAxisIndex:x1,yAxisIndex:y1,data:d,showSymbol:false,symbol:'none',lineStyle:{color:GSEA_COL[i],width:1},itemStyle:{color:GSEA_COL[i]},z:2,silent:true}));
  const g2=grid({left:c.left,top:c.esTop+c.esH+2,width:c.width,height:37});
  const x2=xa({gridIndex:g2,type:'value',min:c.xmin,max:c.xmax,show:false});
  const y2=ya({gridIndex:g2,type:'value',min:-0.5,max:4.5,inverse:true,show:false});
  c.hits.forEach((h,r)=>series.push({type:'scatter',xAxisIndex:x2,yAxisIndex:y2,symbol:'rect',symbolSize:[0.8,6.5],itemStyle:{color:GSEA_COL[c.hitCol[r]],opacity:0.6},data:h.map(v=>[v,r]),silent:true}));
  const g3=grid({left:c.left,top:1035,width:c.width,height:57});
  const x3=xa({gridIndex:g3,type:'value',min:c.xmin,max:c.xmax,axisLine:{show:true,onZero:false,lineStyle:{color:'#333',width:0.5}},
    axisTick:{customValues:[5000,10000],length:1.5,lineStyle:{color:'#333',width:0.5}},axisLabel:{customValues:[5000,10000],fontSize:3.6,color:'#444',margin:2},
    splitLine:hidden,name:'Rank in Ordered Dataset',nameLocation:'middle',nameGap:6,nameTextStyle:{fontSize:4.3,color:'#222'}});
  const y3=ya({gridIndex:g3,type:'value',min:-2,max:1.8,axisLine:{show:true,onZero:false,lineStyle:{color:'#333',width:0.5}},
    axisTick:{customValues:[-2,-1,0,1],length:1.5,lineStyle:{color:'#333',width:0.5}},axisLabel:{customValues:[-2,-1,0,1],fontSize:3.6,color:'#444',margin:2},
    splitLine:hidden,name:'Ranked List Metric',nameLocation:'middle',nameGap:9,nameTextStyle:{fontSize:4.3,color:'#222'}});
  vgrid(x3,y3,-2,1.8);
  series.push({type:'line',xAxisIndex:x3,yAxisIndex:y3,data:c.metric,showSymbol:false,smooth:0.2,lineStyle:{color:'#A8A8A8',width:0.5},areaStyle:{color:'#B4B4B4',opacity:1,origin:0},z:2,silent:true});
  T(c.left,900,c.title,{fontSize:4.8,fill:'#222'});
  legend.push({orient:'vertical',left:c.legX,top:903,itemWidth:11,itemHeight:1.5,itemGap:4.6,icon:'rect',data:c.names,textStyle:{fontSize:3.8,color:'#333'}});
}
gsea({left:53,width:252,xmin:200,xmax:13600,esTop:904,esH:91,esMin:-0.11,esMax:0.667,esTicks:[0,0.2,0.4,0.6],
  es:[esI_cyto,esI_graft,esI_primary,esI_ribo,esI_t1d],names:gseaNamesI,
  hits:[hitsI_primary,hitsI_graft,hitsI_t1d,hitsI_cyto,hitsI_ribo],hitCol:[2,1,4,0,3],metric:metricI,title:'Enriched in high risk group',legX:203});
gsea({left:440,width:248.5,xmin:100,xmax:13610,esTop:905,esH:92,esMin:-0.63,esMax:0.052,esTicks:[-0.6,-0.4,-0.2,0],
  es:[esJ_fatty,esJ_tight,esJ_t2d,esJ_valine,esJ_vibrio],names:gseaNamesJ,
  hits:[hitsJ_fatty,hitsJ_tight,hitsJ_t2d,hitsJ_vibrio,hitsJ_valine],hitCol:[0,1,2,4,3],metric:metricJ,title:'Enriched in low risk group',legX:588});

// ---------- Panel letters ----------
[['A',2,10],['B',250,10],['C',500,10],['D',3,210],['E',377,210],['F',3,432],['G',403,432],['H',3,652],['I',3,886],['J',379,886]].forEach(([t,x,y])=>T(x,y,t,{fontSize:13,fontWeight:'bold'}));

const chart=echarts.init(document.getElementById('c'),null,{renderer:'svg',width:750,height:1102});
chart.setOption({animation:false,backgroundColor:'#fff',textStyle:{fontFamily:FONT},grid:grids,xAxis:xAxis,yAxis:yAxis,series:series,legend:legend,graphic:graphic,tooltip:{show:false}});
</script></body></html>
